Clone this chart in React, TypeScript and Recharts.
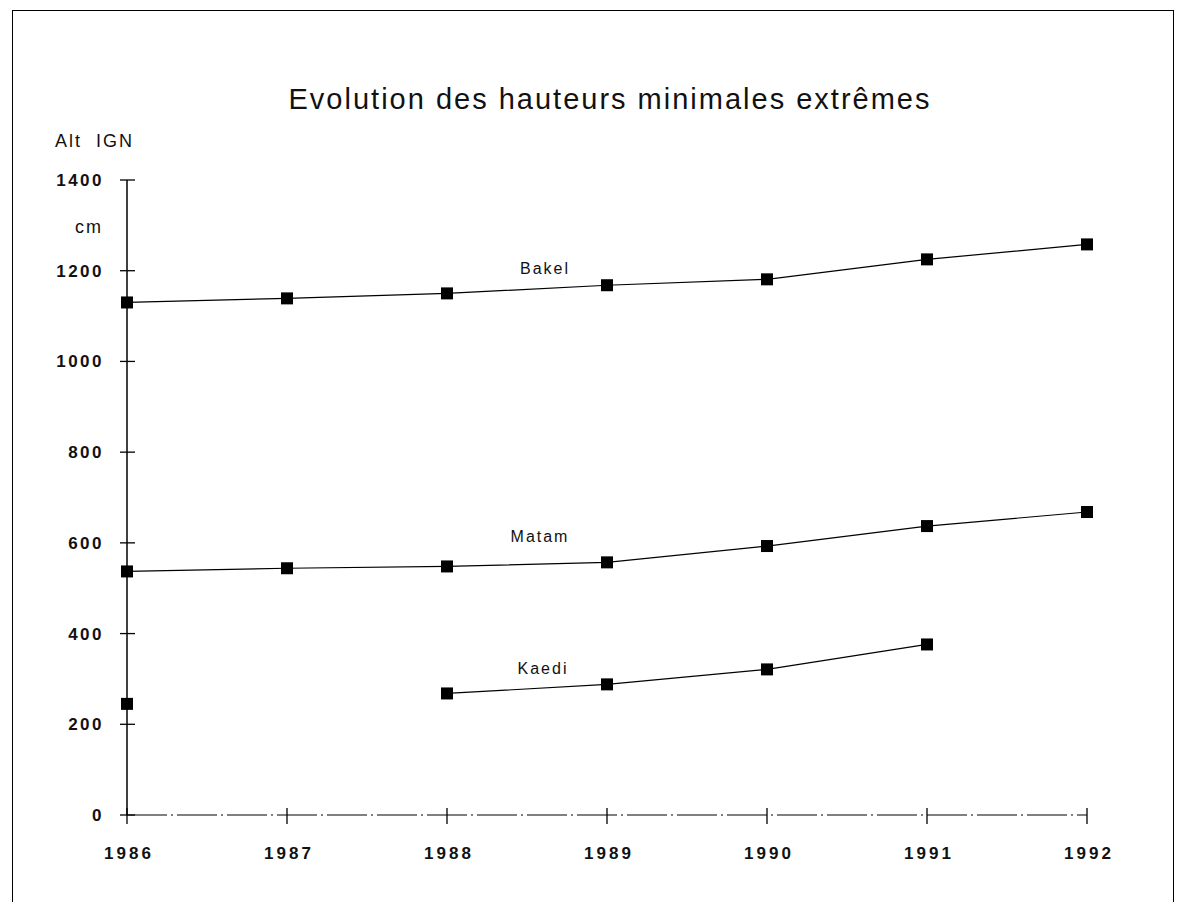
import React from 'react';
import { LineChart, Line, XAxis, YAxis, LabelList } from 'recharts';

const years = [1986, 1987, 1988, 1989, 1990, 1991, 1992];
const bakel = [1130, 1139, 1150, 1168, 1181, 1225, 1258];
const matam = [537, 544, 548, 557, 593, 637, 668];
const kaedi: (number | null)[] = [245, null, 268, 288, 321, 376, null];
const yTicks = [0, 200, 400, 600, 800, 1000, 1200, 1400];

const data = years.map((year, i) => ({
  year,
  bakel: bakel[i],
  matam: matam[i],
  kaedi: kaedi[i],
}));

const font = '"Liberation Sans", Arial, sans-serif';

const SquareDot = (props: any) => {
  const { cx, cy, index } = props;
  if (cx == null || cy == null) return <g key={`e-${index}`} />;
  return <rect key={`d-${index}`} x={cx - 6} y={cy - 6} width={12} height={12} fill="#000" />;
};

const YTick = (props: any) => {
  const { x, y, payload } = props;
  return (
    <g>
      <line x1={x - 7} x2={x + 8} y1={y} y2={y} stroke="#000" strokeWidth={1.3} />
      <text x={x - 23} y={y + 6} textAnchor="end" fontFamily={font} fontSize={17} fontWeight={600} letterSpacing={2.5} fill="#111">
        {payload.value}
      </text>
    </g>
  );
};

const XTick = (props: any) => {
  const { x, y, payload } = props;
  return (
    <g>
      <line x1={x} x2={x} y1={y - 7} y2={y + 9} stroke="#000" strokeWidth={1.3} />
      <text x={x + 2} y={y + 44} textAnchor="middle" fontFamily={font} fontSize={17} fontWeight={600} letterSpacing={3} fill="#111">
        {payload.value}
      </text>
    </g>
  );
};

const seriesLabel = (name: string, dx: number, dy: number) => (props: any) => {
  const { x, y, index } = props;
  if (index !== 2) return null;
  return (
    <text x={x + dx} y={y + dy} textAnchor="middle" fontFamily={font} fontSize={16} letterSpacing={2} fill="#111">
      {name}
    </text>
  );
};

export default function App() {
  return (
    <div style={{ position: 'absolute', left: 0, top: 0, width: 1179, height: 902, background: '#fff', overflow: 'hidden' }}>
      <div style={{ position: 'absolute', left: 12, top: 10, width: 1162, height: 950, border: '1.5px solid #000', boxSizing: 'border-box' }} />
      <div style={{ position: 'absolute', left: 0, width: 1220, top: 83, textAlign: 'center', fontFamily: font, fontSize: 29, letterSpacing: 2, color: '#111' }}>
        Evolution des hauteurs minimales extrêmes
      </div>
      <div style={{ position: 'absolute', left: 55, top: 131, fontFamily: font, fontSize: 18, letterSpacing: 2, color: '#111' }}>
        Alt&nbsp;&nbsp;IGN
      </div>
      <div style={{ position: 'absolute', right: 1179 - 103, top: 217, fontFamily: font, fontSize: 18, letterSpacing: 2, color: '#111' }}>
        cm
      </div>
      <LineChart
        width={1179}
        height={902}
        data={data}
        margin={{ top: 180, right: 92, bottom: 47, left: 67 }}
        style={{ position: 'absolute', left: 0, top: 0 }}
      >
        <XAxis
          dataKey="year"
          type="number"
          domain={[1986, 1992]}
          ticks={years}
          height={40}
          tickSize={0}
          tickMargin={0}
          tickLine={false}
          axisLine={{ stroke: '#000', strokeWidth: 1.2, strokeDasharray: '40 4 2 4' }}
          tick={<XTick />}
        />
        <YAxis
          type="number"
          domain={[0, 1400]}
          ticks={yTicks}
          width={60}
          tickSize={0}
          tickMargin={0}
          tickLine={false}
          axisLine={{ stroke: '#000', strokeWidth: 1.5 }}
          tick={<YTick />}
        />
        <Line dataKey="bakel" stroke="#000" strokeWidth={1.2} dot={<SquareDot />} activeDot={false} isAnimationActive={false}>
          <LabelList dataKey="bakel" content={seriesLabel('Bakel', 98, -19)} />
        </Line>
        <Line dataKey="matam" stroke="#000" strokeWidth={1.2} dot={<SquareDot />} activeDot={false} isAnimationActive={false}>
          <LabelList dataKey="matam" content={seriesLabel('Matam', 93, -24)} />
        </Line>
        <Line dataKey="kaedi" stroke="#000" strokeWidth={1.2} dot={<SquareDot />} activeDot={false} connectNulls={false} isAnimationActive={false}>
          <LabelList dataKey="kaedi" content={seriesLabel('Kaedi', 96, -19)} />
        </Line>
      </LineChart>
    </div>
  );
}
